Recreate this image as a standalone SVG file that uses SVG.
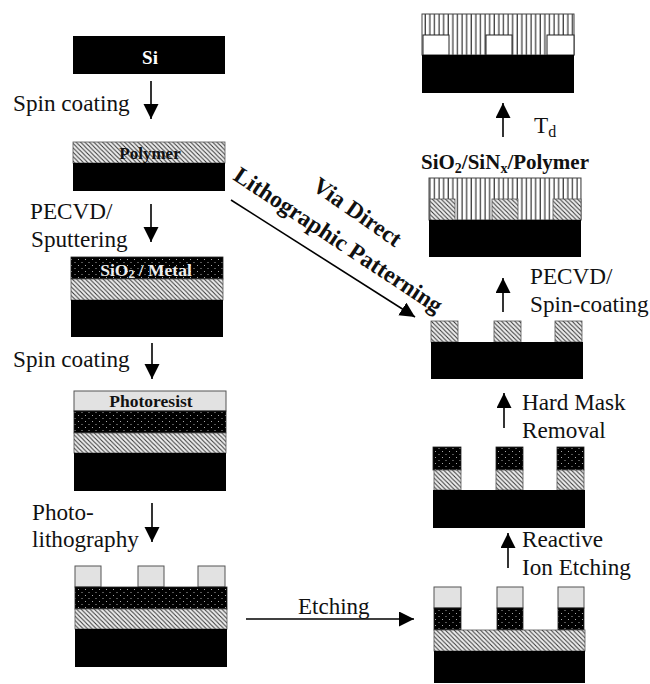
<svg xmlns="http://www.w3.org/2000/svg" width="650" height="684" viewBox="0 0 650 684">
<defs>
<pattern id="hatch" width="4.4" height="4.4" patternUnits="userSpaceOnUse">
<rect width="4.4" height="4.4" fill="#eee"/>
<path d="M-1,-1 L5.4,5.4 M-1,3.4 L1,5.4 M3.4,-1 L5.4,1" stroke="#333" stroke-width="1" fill="none"/>
</pattern>
<pattern id="dots" width="7" height="6" patternUnits="userSpaceOnUse">
<rect width="7" height="6" fill="#000"/>
<rect x="1" y="1" width="1" height="1" fill="#aaa"/>
<rect x="4.5" y="4" width="1" height="1" fill="#aaa"/>
</pattern>
<pattern id="vert" width="4.6" height="5" patternUnits="userSpaceOnUse">
<rect width="4.6" height="5" fill="#fff"/>
<rect x="1.5" width="1.1" height="5" fill="#222"/>
</pattern>
<marker id="head" markerUnits="userSpaceOnUse" markerWidth="16" markerHeight="16" refX="15" refY="7.5" orient="auto">
<path d="M0,0 L15,7.5 L0,15 Z" fill="#000"/>
</marker>
</defs>
<style>
text{font-family:"Liberation Serif","Times New Roman",serif;fill:#111}
.l{font-size:23.2px}
.b{font-weight:bold}
.m{text-anchor:middle}
.si{fill:#000}
.h{fill:url(#hatch);stroke:#555;stroke-width:.8}
.d{fill:url(#dots);stroke:#222;stroke-width:.8}
.v{fill:url(#vert);stroke:#444;stroke-width:1}
.g{fill:#e2e2e2;stroke:#555;stroke-width:1}
.w{fill:#fff;stroke:#222;stroke-width:1}
.c{stroke:#000;stroke-width:1.6;fill:none;marker-end:url(#head)}
</style>
<g id="connectors">
<path class="c" d="M151,81V119"/>
<path class="c" d="M151,204V242"/>
<path class="c" d="M152,343V379"/>
<path class="c" d="M152,503V542"/>
<path class="c" d="M246,619L414,619"/>
<path class="c" d="M231,200L415,317"/>
<path class="c" d="M508,568V533"/>
<path class="c" d="M504,428V393"/>
<path class="c" d="M503,312V278"/>
<path class="c" d="M503,137V103"/>
</g>
<g id="node-si">
<rect class="si" x="73" y="36" width="152" height="38"/>
<text class="b m" x="150" y="64" font-size="19" style="fill:#fff">Si</text>
</g>
<g id="node-polymer">
<rect class="h" x="73" y="142" width="152" height="21"/>
<rect class="si" x="73" y="163" width="152" height="28"/>
<text class="b m" x="150" y="159" font-size="17">Polymer</text>
</g>
<g id="node-metal">
<rect class="d" x="71" y="257" width="152" height="22"/>
<rect class="h" x="71" y="279" width="152" height="21"/>
<rect class="si" x="71" y="300" width="152" height="37"/>
<text class="b m" x="146" y="276" font-size="17.5" style="fill:#eee">SiO<tspan font-size="12" dy="2">2</tspan><tspan dy="-2"> / Metal</tspan></text>
</g>
<g id="node-photoresist">
<rect class="g" x="74" y="391" width="152" height="20"/>
<rect class="d" x="74" y="411" width="152" height="22"/>
<rect class="h" x="74" y="433" width="152" height="20"/>
<rect class="si" x="74" y="453" width="152" height="38"/>
<text class="b m" x="151" y="407" font-size="17.5">Photoresist</text>
</g>
<g id="node-patterned-resist">
<rect class="g" x="75" y="566" width="26" height="21"/>
<rect class="g" x="138" y="566" width="26" height="21"/>
<rect class="g" x="198" y="566" width="27" height="21"/>
<rect class="d" x="75" y="587" width="152" height="22"/>
<rect class="h" x="75" y="609" width="152" height="20"/>
<rect class="si" x="75" y="629" width="152" height="38"/>
</g>
<g id="node-etched">
<rect class="g" x="434" y="587" width="27" height="21"/>
<rect class="g" x="497" y="587" width="26" height="21"/>
<rect class="g" x="558" y="587" width="26" height="21"/>
<rect class="d" x="434" y="608" width="27" height="22"/>
<rect class="d" x="497" y="608" width="26" height="22"/>
<rect class="d" x="558" y="608" width="26" height="22"/>
<rect class="h" x="434" y="630" width="151" height="21"/>
<rect class="si" x="434" y="651" width="151" height="32"/>
</g>
<g id="node-rie">
<rect class="d" x="433" y="447" width="28" height="23"/>
<rect class="d" x="496" y="447" width="27" height="23"/>
<rect class="d" x="557" y="447" width="27" height="23"/>
<rect class="h" x="434" y="470" width="27" height="20"/>
<rect class="h" x="496" y="470" width="27" height="20"/>
<rect class="h" x="557" y="470" width="27" height="20"/>
<rect class="si" x="433" y="490" width="152" height="38"/>
</g>
<g id="node-polymer-lines">
<rect class="h" x="431" y="321" width="27" height="21"/>
<rect class="h" x="494" y="321" width="27" height="21"/>
<rect class="h" x="555" y="321" width="27" height="21"/>
<rect class="si" x="431" y="342" width="152" height="37"/>
</g>
<g id="node-coated">
<rect class="v" x="429" y="178" width="152" height="42"/>
<rect class="h" x="430" y="199" width="25" height="21"/>
<rect class="h" x="492" y="199" width="26" height="21"/>
<rect class="h" x="553" y="199" width="28" height="21"/>
<rect class="si" x="429" y="220" width="152" height="37"/>
<text class="b" x="421" y="169" font-size="21">SiO<tspan font-size="14" dy="4">2</tspan><tspan dy="-4">/SiN</tspan><tspan font-size="14" dy="4">x</tspan><tspan dy="-4">/Polymer</tspan></text>
</g>
<g id="node-airgap">
<rect class="v" x="422" y="14" width="152" height="41"/>
<rect class="w" x="423" y="35" width="26" height="20"/>
<rect class="w" x="486" y="35" width="26" height="20"/>
<rect class="w" x="547" y="35" width="27" height="20"/>
<rect class="si" x="422" y="55" width="152" height="38"/>
</g>
<g id="labels">
<text class="l" x="13" y="111">Spin coating</text>
<text class="l" x="30" y="219">PECVD/</text>
<text class="l" x="31" y="247">Sputtering</text>
<text class="l" x="13" y="367">Spin coating</text>
<text class="l" x="32" y="520">Photo-</text>
<text class="l" x="32" y="547">lithography</text>
<text x="298" y="614" font-size="23">Etching</text>
<text class="l" x="522" y="547">Reactive</text>
<text class="l" x="522" y="575">Ion Etching</text>
<text class="l" x="522" y="410">Hard Mask</text>
<text class="l" x="522" y="438">Removal</text>
<text class="l" x="530" y="284">PECVD/</text>
<text class="l" x="530" y="312">Spin-coating</text>
<text class="l" x="534" y="133">T<tspan font-size="16" dy="4">d</tspan></text>
<text class="b" font-size="23.5" transform="translate(311,189) rotate(35)">Via Direct</text>
<text class="b" font-size="23.5" transform="translate(232,179) rotate(33.5)">Lithographic Patterning</text>
</g>
</svg>
